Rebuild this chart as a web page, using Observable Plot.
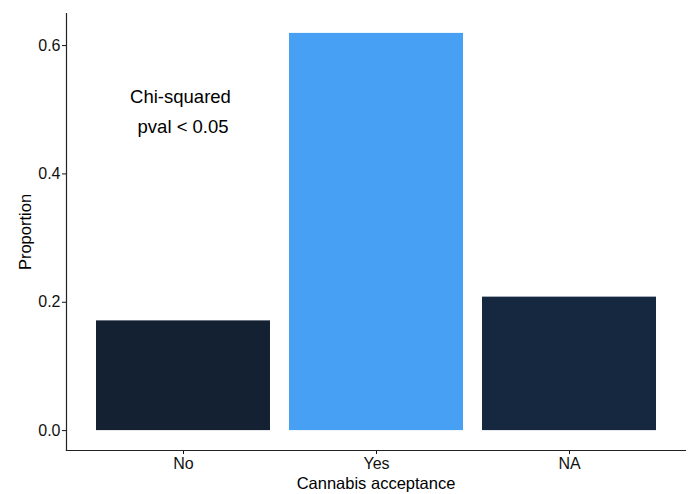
<!DOCTYPE html>
<html>
<head>
<meta charset="utf-8">
<script src="https://cdn.jsdelivr.net/npm/d3@7"></script>
<script src="https://cdn.jsdelivr.net/npm/@observablehq/plot@0.6"></script>
<style>
  html, body { margin: 0; padding: 0; background: #fff; }
  #chart { width: 691px; height: 494px; }
</style>
</head>
<body>
<div id="chart"></div>
<script>
const categories = ["No", "Yes", "NA"];
const proportions = [0.171, 0.619, 0.208];
const barColors = ["#132133", "#48a0f5", "#16283f"];
const yTicks = [0, 0.2, 0.4, 0.6];
const annotationLines = ["Chi-squared", " pval < 0.05"];

const data = categories.map((c, i) => ({ cat: c, value: proportions[i] }));

const chart = Plot.plot({
  width: 691,
  height: 494,
  marginLeft: 66,
  marginRight: 6,
  marginTop: 13,
  marginBottom: 44,
  style: { fontFamily: "Liberation Sans, Arial, sans-serif", background: "#fff" },
  x: { domain: categories, paddingInner: 0.1, paddingOuter: 0.15, label: null },
  y: { domain: [-0.031, 0.650], label: null },
  color: { domain: categories, range: barColors },
  marks: [
    Plot.barY(data, { x: "cat", y1: 0, y2: "value", fill: "cat" }),
    Plot.axisY({ ticks: yTicks, tickFormat: d3.format(".1f"), tickSize: 4, tickPadding: 2, fontSize: 16, color: "#111", label: null }),
    Plot.axisX({ tickSize: 4, tickPadding: 3, fontSize: 16, color: "#111", label: null }),
    Plot.frame({ anchor: "left", stroke: "#222", strokeWidth: 1.2 }),
    Plot.frame({ anchor: "bottom", stroke: "#222", strokeWidth: 1.2 }),
    Plot.text([{ cat: "No", y: 0.5, t: annotationLines.join("\n") }], {
      x: "cat", y: "y", text: "t", fontSize: 18.5, lineHeight: 1.6, dx: -3, dy: -1, fill: "#000", textAnchor: "middle"
    }),
    Plot.text(["Proportion"], { frameAnchor: "left", textAnchor: "middle", dx: -41, rotate: -90, fontSize: 16.5, fill: "#000" }),
    Plot.text(["Cannabis acceptance"], { frameAnchor: "bottom", dy: 38, fontSize: 16.5, fill: "#000" })
  ]
});
document.getElementById("chart").appendChild(chart);
</script>
</body>
</html>
